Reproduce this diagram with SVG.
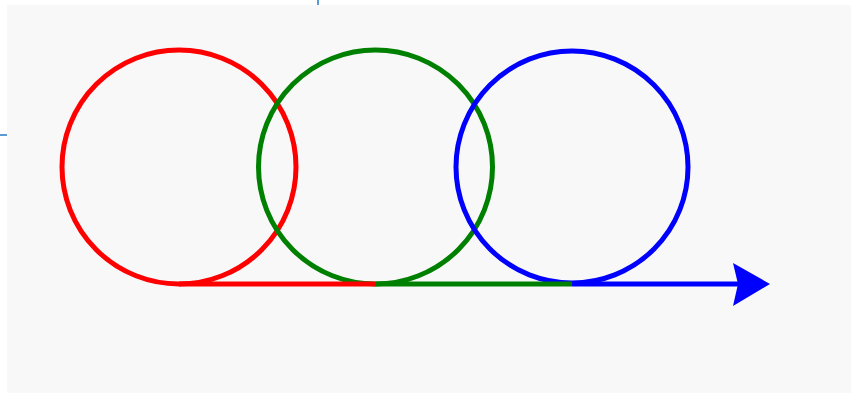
<svg xmlns="http://www.w3.org/2000/svg" width="851" height="394" viewBox="0 0 851 394">
<style>
.c{fill:none;stroke-width:5}
.l{stroke-width:5;fill:none}
</style>
<rect x="0" y="0" width="851" height="394" fill="#ffffff"/>
<rect x="7" y="5" width="844" height="388" fill="#f8f8f8"/>
<line x1="318" y1="0" x2="318" y2="5" stroke="#5b9bd5" stroke-width="2"/>
<line x1="0" y1="135" x2="7" y2="135" stroke="#5b9bd5" stroke-width="2"/>
<g id="red-circle"><circle class="c" cx="179" cy="167" r="117" stroke="#ff0000"/></g>
<g id="green-circle"><circle class="c" cx="375.5" cy="167" r="117" stroke="#008000"/></g>
<g id="blue-circle"><circle class="c" cx="572" cy="167" r="116" stroke="#0000ff"/></g>
<g id="connectors">
<line class="l" x1="179" y1="284" x2="375.5" y2="284" stroke="#ff0000"/>
<line class="l" x1="375.5" y1="284" x2="572" y2="284" stroke="#008000"/>
<line class="l" x1="572" y1="284" x2="740" y2="284" stroke="#0000ff"/>
<polygon points="733,263 770,284 733,306 738,284" fill="#0000ff"/>
</g>
</svg>
